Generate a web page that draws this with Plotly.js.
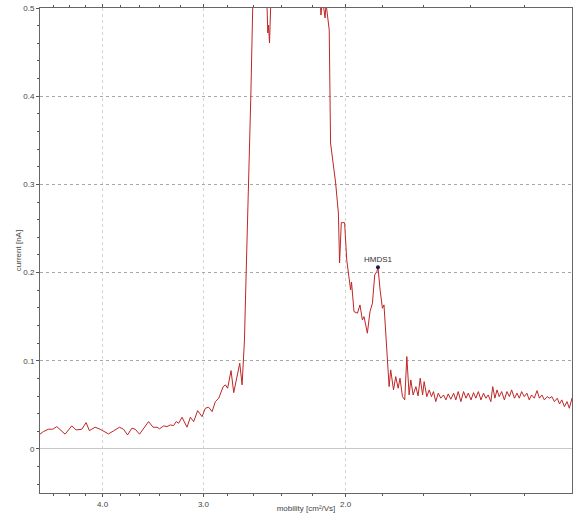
<!DOCTYPE html>
<html>
<head>
<meta charset="utf-8">
<script src="https://cdn.plot.ly/plotly-3.0.1.min.js"></script>
<style>html,body{margin:0;padding:0;background:#fff}#chart{width:573px;height:513px}</style>
</head>
<body>
<div id="chart"></div>
<script>
// mobility [cm²/Vs] (x) and current [nA] (y)
var mobility = [4.781,4.736,4.669,4.610,4.558,4.506,4.451,4.367,4.314,4.244,4.192,4.153,4.086,4.028,3.933,3.877,3.812,3.768,3.725,3.679,3.644,3.600,3.552,3.508,3.464,3.425,3.400,3.361,3.329,3.297,3.267,3.242,3.220,3.189,3.144,3.114,3.085,3.050,3.012,2.984,2.956,2.927,2.900,2.872,2.836,2.818,2.800,2.773,2.752,2.721,2.705,2.687,2.669,2.656,2.636,2.621,2.607,2.594,2.550,2.510,2.506,2.497,2.492,2.485,2.471,2.408,2.307,2.210,2.160,2.146,2.136,2.121,2.115,2.101,2.096,2.088,2.074,2.058,2.042,2.035,2.025,2.006,1.994,1.981,1.972,1.967,1.953,1.934,1.920,1.907,1.898,1.880,1.866,1.853,1.841,1.830,1.824,1.813,1.801,1.793,1.775,1.767,1.759,1.745,1.734,1.722,1.713,1.701,1.690,1.680,1.669,1.661,1.650,1.637,1.627,1.617,1.606,1.599,1.587,1.576,1.566,1.557,1.547,1.536,1.525,1.513,1.503,1.493,1.482,1.470,1.461,1.451,1.440,1.429,1.419,1.410,1.399,1.389,1.380,1.370,1.360,1.350,1.341,1.332,1.322,1.315,1.307,1.299,1.291,1.282,1.272,1.263,1.254,1.246,1.236,1.227,1.219,1.211,1.202,1.193,1.185,1.177,1.168,1.159,1.151,1.143,1.135,1.126,1.119,1.111,1.103,1.094,1.087,1.080,1.072,1.064,1.057,1.049,1.043];
var current = [0.0167,0.0196,0.0223,0.0223,0.0253,0.0207,0.0167,0.0261,0.0215,0.0223,0.0298,0.0207,0.0246,0.0223,0.0170,0.0204,0.0246,0.0223,0.0159,0.0235,0.0223,0.0167,0.0235,0.0310,0.0246,0.0246,0.0227,0.0261,0.0253,0.0272,0.0264,0.0310,0.0291,0.0359,0.0246,0.0359,0.0310,0.0434,0.0366,0.0461,0.0473,0.0423,0.0536,0.0575,0.0706,0.0726,0.0688,0.0888,0.0638,0.0876,0.0972,0.0726,0.1236,0.1995,0.2993,0.3991,0.5000,0.60,0.70,0.62,0.52,0.4717,0.4807,0.4603,0.53,0.68,0.72,0.66,0.55,0.492,0.51,0.4887,0.505,0.4807,0.4751,0.3469,0.3277,0.3016,0.2676,0.2109,0.2566,0.2566,0.2143,0.1916,0.1803,0.1893,0.1557,0.1539,0.1633,0.1463,0.1500,0.1312,0.1557,0.1652,0.1973,0.2010,0.2060,0.1803,0.1595,0.1633,0.0990,0.0706,0.0896,0.0669,0.0820,0.0688,0.0802,0.0593,0.0556,0.1047,0.0612,0.0782,0.0612,0.0706,0.0601,0.0802,0.0612,0.0763,0.0593,0.0669,0.0593,0.0650,0.0536,0.0632,0.0575,0.0612,0.0556,0.0624,0.0563,0.0632,0.0556,0.0650,0.0536,0.0650,0.0575,0.0632,0.0556,0.0638,0.0575,0.0650,0.0556,0.0632,0.0575,0.0612,0.0536,0.0706,0.0575,0.0669,0.0593,0.0650,0.0556,0.0650,0.0593,0.0669,0.0575,0.0632,0.0575,0.0650,0.0593,0.0632,0.0556,0.0612,0.0575,0.0661,0.0575,0.0612,0.0556,0.0593,0.0575,0.0593,0.0536,0.0575,0.0510,0.0556,0.0480,0.0536,0.0461,0.0575,0.0499];

var peakMobility = [1.824];
var peakCurrent = [0.206];
var peakLabel = ['HMDS1'];

var xTickVals = [2, 3, 4];
var xTickText = ['2.0', '3.0', '4.0'];
var xMinorVals = [1.2, 1.4, 1.6, 1.8, 2.2, 2.4, 2.6, 2.8, 3.2, 3.4, 3.6, 3.8, 4.2, 4.4, 4.6];
var yTickVals = [0, 0.1, 0.2, 0.3, 0.4, 0.5];
var yTickText = ['0', '0.1', '0.2', '0.3', '0.4', '0.5'];

var font = {family: 'Liberation Sans, Arial, sans-serif', size: 8, color: '#444'};

var traces = [
  {x: mobility, y: current, type: 'scatter', mode: 'lines',
   line: {color: '#bf2626', width: 1}, hoverinfo: 'skip', cliponaxis: true},
  {x: peakMobility, y: peakCurrent, type: 'scatter', mode: 'markers+text',
   text: peakLabel, textposition: 'top center',
   textfont: {family: 'Liberation Sans, Arial, sans-serif', size: 8, color: '#333'},
   marker: {color: '#1a1a4a', size: 4}, cliponaxis: false}
];

var layout = {
  width: 573, height: 513,
  margin: {l: 40, r: 1, t: 8, b: 20, pad: 0},
  paper_bgcolor: '#fff', plot_bgcolor: '#fff',
  showlegend: false,
  font: font,
  xaxis: {
    type: 'log', range: [Math.log10(4.781), Math.log10(1.049)],
    tickmode: 'array', tickvals: xTickVals, ticktext: xTickText,
    ticks: 'outside', ticklen: 3, tickcolor: '#555', tickfont: font,
    showgrid: true, gridcolor: '#d4d4d4', griddash: 'dot', gridwidth: 1,
    showline: true, linecolor: '#666', linewidth: 1, mirror: 'ticks',
    zeroline: false, automargin: false,
    minor: {tickmode: 'array', tickvals: xMinorVals, ticks: 'outside', ticklen: 2, tickcolor: '#555', showgrid: false},
    title: {text: 'mobility [cm²/Vs]', font: font, standoff: 2}
  },
  yaxis: {
    range: [-0.05, 0.5],
    tickmode: 'array', tickvals: yTickVals, ticktext: yTickText,
    ticks: 'outside', ticklen: 3, tickcolor: '#555', tickfont: font,
    showgrid: true, gridcolor: '#a8a8a8', griddash: 'dot', gridwidth: 1,
    zeroline: true, zerolinecolor: '#c8c8c8', zerolinewidth: 1,
    showline: true, linecolor: '#666', linewidth: 1, mirror: 'ticks',
    automargin: false,
    minor: {dtick: 0.02, tick0: 0, ticks: 'outside', ticklen: 2, tickcolor: '#555', showgrid: false},
    title: {text: 'current [nA]', font: font, standoff: 0}
  }
};

Plotly.newPlot('chart', traces, layout, {displayModeBar: false, staticPlot: true});
</script>
</body>
</html>
